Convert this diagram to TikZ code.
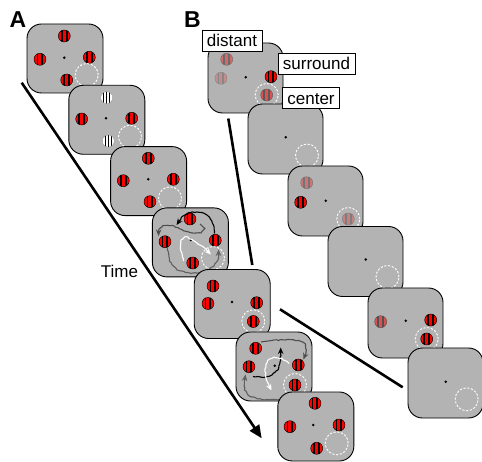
\documentclass[tikz,border=0pt]{standalone}
\usepackage{fontspec}
\setmainfont{Liberation Sans}
\usetikzlibrary{arrows.meta,decorations.pathmorphing}

\definecolor{panelgray}{RGB}{179,179,179}
\definecolor{trackdark}{RGB}{78,78,78}
\definecolor{trackmid}{RGB}{96,96,96}

% striped grating patch: position, fill colour, stripe colour
\newcommand{\gab}[3]{%
  \begin{scope}[shift={#1}]
    \fill[#2] (0,0) circle (6pt);
    \begin{scope}
      \clip (0,0) circle (6pt);
      \fill[#3] (-3.4,-7) rectangle (-1.6,7);
      \fill[#3] (1.4,-7) rectangle (3.2,7);
    \end{scope}
    \draw[#3, line width=0.45pt] (0,0) circle (6pt);
  \end{scope}}
% white grating patch with three stripes
\newcommand{\gabw}[1]{%
  \begin{scope}[shift={#1}]
    \fill[white] (0,0) circle (6pt);
    \begin{scope}
      \clip (0,0) circle (6pt);
      \fill[black] (-3.6,-7) rectangle (-2.4,7);
      \fill[black] (-0.6,-7) rectangle (0.6,7);
      \fill[black] (2.4,-7) rectangle (3.6,7);
    \end{scope}
    \draw[black!45, line width=0.3pt] (0,0) circle (6pt);
  \end{scope}}
% fixation dot and receptive-field outline
\newcommand{\fix}[1]{\fill[black] #1 circle (1.4pt);}
\newcommand{\rf}[1]{\draw[white, line width=0.9pt, dash pattern=on 2.2pt off 1.6pt] #1 circle (11.5pt);}

\begin{document}
\begin{tikzpicture}[x=1pt, y=-1pt,
  frame/.style={draw=black, line width=0.9pt, fill=panelgray, rounded corners=14.5pt,
                minimum width=76pt, minimum height=69pt, inner sep=0pt},
  frameb/.style={frame, minimum width=75pt, minimum height=70pt},
  panel/.style={font=\bfseries\fontsize{23}{26}\selectfont, inner sep=0pt},
  lab/.style={draw=black, line width=0.8pt, fill=white, inner xsep=5pt, inner ysep=4.3pt,
              text height=12.3pt, text depth=0pt, font=\fontsize{17}{20}\selectfont},
  timetext/.style={font=\fontsize{17}{20}\selectfont, inner sep=0pt, text height=12.2pt, text depth=0pt},
  timeline/.style={line width=2.6pt, -{Triangle[length=13pt,width=11pt]}},
  zoomline/.style={line width=2.6pt},
  wig/.style={line width=1.1pt, line join=round, decorate,
              decoration={random steps, segment length=2.2pt, amplitude=0.55pt}},
  tip/.style={line width=1.1pt, -{Stealth[length=6.5pt,width=5.5pt]}}]
\pgfmathsetseed{11}
\useasboundingbox (0,0) rectangle (482,462);
\fill[white] (0,0) rectangle (482,462);

% panel letters
\node[panel] (labA) at (18,20) {A};
\node[panel] (labB) at (192.5,20) {B};

% time axis and the two lines linking the sequences
\coordinate (tstart) at (21.7,82.7);
\coordinate (tend) at (261.7,438.3);
\draw[timeline] (tstart) -- (tend);
\node[timetext] (time) at (119.5,271) {Time};
\coordinate (z1a) at (228.3,118.5);
\coordinate (z1b) at (252.3,265);
\coordinate (z2a) at (280,309.3);
\coordinate (z2b) at (402.7,387.3);
\draw[zoomline] (z1a) -- (z1b);
\draw[zoomline] (z2a) -- (z2b);

% ---------------- sequence A ----------------
\node[frame] (fa1) at (65,58.5) {};
\fix{(64.3,57.7)}
\gab{(64.3,36)}{red}{black}
\gab{(40,59.3)}{red}{black}
\gab{(89.3,57.3)}{red}{black}
\gab{(66.7,80)}{red}{black}
\rf{(86.7,75)}

\node[frame] (fa2) at (106.8,119.8) {};
\fix{(106,118.3)}
\gabw{(106.7,97.7)}
\gab{(81.7,119)}{red}{black}
\gab{(131.7,118.3)}{red}{black}
\gabw{(108.3,141)}
\rf{(130,136.7)}

\node[frame] (fa3) at (148.6,181.1) {};
\fix{(148.3,179.3)}
\gab{(148.3,158.3)}{red}{black}
\gab{(123.3,180.7)}{red}{black}
\gab{(173.3,179.3)}{red}{black}
\gab{(150,201.7)}{red}{black}
\rf{(170,198.3)}

\node[frame] (fa4) at (190.4,242.4) {};
\fix{(190.7,240)}
\gab{(190,219)}{red}{black}
\gab{(165,241.7)}{red}{black}
\gab{(215.3,240.3)}{red}{black}
\gab{(192.7,263)}{red}{black}
\rf{(213,258)}
% eye-movement traces
\draw[wig, trackdark] (200,224) -- (205,228.5) -- (201,233) -- (190,232.5) -- (180,229) -- (172,225.5) -- (163,225.5) -- (159,229) -- (158.6,232);
\draw[tip, trackdark] (158.6,231.5) -- (158.5,236);
\draw[wig, trackmid] (167.5,247.5) -- (169.5,261) -- (177,270) -- (191,273.5) -- (205,272) -- (214,266) -- (218.5,258) -- (218.5,253.5);
\draw[tip, trackmid] (218.5,254) -- (218.5,249.5);
\draw[wig, black] (214.5,233.5) -- (213.5,225) -- (210,218) -- (204.5,213.5) -- (197,212) -- (189,212.5) -- (183,216) -- (179.5,220.5);
\draw[tip, black] (180,220) -- (176.5,225);
\draw[wig, white] (183.5,261) -- (180.5,250) -- (181,240) -- (186,236.5) -- (195,241.5) -- (204,247.5) -- (207.5,251);
\draw[tip, white] (207,250.5) -- (211,254.5);

\node[frame] (fa5) at (232.2,304) {};
\fix{(232,302)}
\gab{(213,286)}{red}{black}
\gab{(208,303.5)}{red}{black}
\gab{(256.7,302.7)}{red}{black}
\gab{(253.3,321.5)}{red}{black}
\rf{(253.3,321.3)}

\node[frame] (fa6) at (274,366.5) {};
\fix{(274.7,365.7)}
\gab{(255.7,348.3)}{red}{black}
\gab{(249,366.7)}{red}{black}
\gab{(298.3,365)}{red}{black}
\gab{(295,385)}{red}{black}
\rf{(295,385)}
% eye-movement traces
\draw[wig, trackdark] (261,342) -- (272,340.5) -- (287,339.5) -- (299,340.5) -- (305.5,344) -- (306,352) -- (305,355.5);
\draw[tip, trackdark] (305.2,355) -- (303.5,359.5);
\draw[wig, trackmid] (291.5,392) -- (288,398) -- (278,400) -- (262,399.5) -- (250,396.5) -- (244.5,390) -- (244.3,382) -- (244.9,378.5);
\draw[tip, trackmid] (244.8,379) -- (245.5,374.5);
\draw[wig, black] (253,376.5) -- (263,377.5) -- (272,375) -- (278,370) -- (280,362) -- (280.7,354) -- (280.7,351.5);
\draw[tip, black] (280.7,352) -- (280.7,347.5);
\draw[wig, white] (289,363.5) -- (282,358.5) -- (274,357) -- (267.5,360.5) -- (265,369) -- (266.5,380) -- (269.2,386);
\draw[tip, white] (269,385.5) -- (271.5,390.5);

\node[frame] (fa7) at (315.8,426.5) {};
\fix{(313.3,425)}
\gab{(315,403.3)}{red}{black}
\gab{(290,426.7)}{red}{black}
\gab{(339,425)}{red}{black}
\gab{(316.7,448.3)}{red}{black}
\rf{(336.7,443.3)}

% ---------------- sequence B ----------------
\node[frameb] (fb1) at (245.5,78) {};
\fix{(245.7,77.3)}
\gab{(226.7,59.3)}{red!40!panelgray}{black!40!panelgray}
\gab{(221,78.3)}{red!22!panelgray}{black!25!panelgray}
\gab{(271,76.7)}{red}{black}
\gab{(266.7,95)}{red!55!panelgray}{black!50!panelgray}
\rf{(266.7,95)}

\node[frameb] (fb2) at (285.5,139) {};
\fix{(285.7,137.3)}
\rf{(307,155.5)}

\node[frameb] (fb3) at (325.5,201) {};
\fix{(325.7,200.7)}
\gab{(306.7,182.7)}{red!35!panelgray}{black!35!panelgray}
\gab{(300.7,202.3)}{red}{black}
\gab{(348.3,219)}{red!28!panelgray}{black!30!panelgray}
\rf{(348.3,219)}

\node[frameb] (fb4) at (365.5,261.5) {};
\fix{(365.7,259.5)}
\rf{(387.5,277)}

\node[frameb] (fb5) at (405.5,323) {};
\fix{(405.7,320.7)}
\gab{(380.7,321.7)}{red!55!panelgray}{black!55!panelgray}
\gab{(430.7,320)}{red}{black}
\gab{(426.7,339)}{red}{black}
\rf{(426.7,339)}

\node[frameb] (fb6) at (445.5,383) {};
\fix{(445.7,381.7)}
\rf{(466.7,399.3)}

% labels of the stimulus regions
\node[lab] (ldist) at (232,40.5) {distant};
\node[lab] (lsurr) at (316.5,63.8) {surround};
\node[lab] (lcent) at (311,98) {center};
\end{tikzpicture}
\end{document}
